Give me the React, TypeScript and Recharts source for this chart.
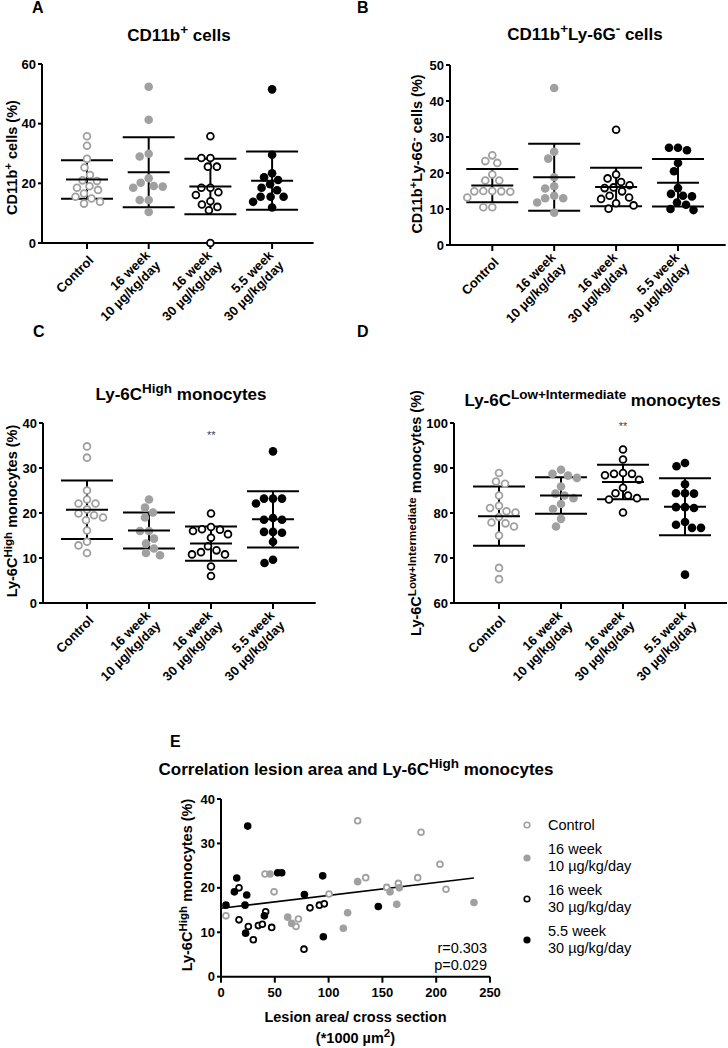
import React from "react";
import { ScatterChart, Scatter, XAxis, YAxis, ErrorBar, ReferenceLine, Legend } from "recharts";

const FONT = '"Liberation Sans", Arial, Helvetica, sans-serif';
const GRAY = "#a0a0a0";
const BLACK = "#000";

// x categories
const groupLabels = [
  ["Control"],
  ["16 week", "10 µg/kg/day"],
  ["16 week", "30 µg/kg/day"],
  ["5.5 week", "30 µg/kg/day"],
];
const groupColor = [GRAY, GRAY, BLACK, BLACK];
const groupOpen = [true, false, true, false];

// A: CD11b+ cells (%)
const aControl = [35.8, 32.6, 28.2, 25.3, 22.8, 21.0, 20.8, 19.0, 18.5, 17.8, 16.6, 15.5, 14.9, 13.8, 13.2];
const a16w10 = [52.4, 41.3, 29.9, 29.0, 21.7, 20.2, 19.1, 18.9, 18.5, 14.4, 14.4, 10.4];
const a16w30 = [35.8, 28.5, 28.5, 25.6, 25.6, 18.5, 18.5, 17.0, 16.1, 14.0, 12.9, 12.1, 11.0, 0];
const a55w30 = [51.5, 29.6, 23.4, 22.0, 21.1, 19.7, 18.5, 17.7, 15.5, 15.5, 15.5, 13.8, 11.9];
const aMeans = [21.3, 23.7, 18.9, 20.9];
const aSds = [6.45, 11.75, 9.3, 9.75];

// B: CD11b+Ly-6G- cells (%)
const bControl = [24.9, 23.3, 22.8, 19.6, 17.9, 17.9, 15.0, 15.0, 14.9, 14.9, 14.8, 13.2, 10.5, 10.5];
const b16w10 = [43.6, 25.9, 24.0, 18.8, 16.3, 15.7, 13.7, 13.0, 13.0, 11.8, 9.0];
const b16w30 = [32.0, 19.6, 18.5, 17.5, 16.6, 16.0, 15.8, 14.9, 13.7, 13.2, 12.8, 11.6, 11.0, 10.1];
const b55w30 = [27.0, 27.0, 26.3, 22.8, 20.5, 15.8, 14.2, 13.7, 13.5, 11.8, 11.2, 10.0, 9.7];
const bMeans = [16.5, 18.8, 16.1, 17.3];
const bSds = [4.6, 9.3, 5.35, 6.6];

// C: Ly-6C High monocytes (%)
const cControl = [34.8, 32.3, 25.0, 23.0, 22.1, 22.1, 20.8, 19.9, 19.5, 19.0, 18.4, 16.1, 13.6, 12.8, 11.1];
const c16w10 = [23.0, 21.2, 20.1, 19.0, 16.0, 16.0, 14.3, 13.2, 12.1, 11.1, 10.6];
const c16w30 = [19.9, 16.9, 16.4, 16.3, 16.0, 15.3, 14.5, 12.6, 11.7, 11.3, 10.8, 10.8, 8.1, 6.0];
const c55w30 = [33.7, 23.2, 23.2, 23.2, 22.1, 18.9, 18.5, 18.5, 15.8, 15.8, 15.6, 13.6, 9.6, 8.9];
const cMeans = [20.7, 16.1, 13.2, 18.6];
const cSds = [6.5, 4.0, 3.8, 6.25];

// D: Ly-6C Low+Intermediate monocytes (%)
const dControl = [88.9, 87.0, 86.5, 83.9, 81.6, 81.1, 80.4, 80.1, 79.1, 77.9, 77.7, 77.0, 75.0, 67.8, 65.3];
const d16w10 = [89.6, 88.7, 88.3, 87.8, 85.9, 84.3, 83.9, 83.3, 82.0, 80.9, 78.7, 77.0];
const d16w30 = [94.1, 91.9, 88.9, 88.7, 88.7, 88.4, 87.4, 85.6, 84.4, 83.9, 83.3, 83.0, 80.1];
const d55w30 = [91.1, 90.4, 86.4, 84.4, 84.4, 84.3, 81.3, 81.3, 81.1, 78.0, 77.4, 76.7, 76.7, 66.3];
const dMeans = [79.3, 83.9, 86.9, 81.4];
const dSds = [6.6, 4.05, 3.85, 6.35];

// E: lesion area (*1000 µm2) vs Ly-6C High monocytes (%)
const eControl = [[4.6, 13.7], [40.9, 23.1], [49.3, 19.1], [71.9, 13.0], [69.7, 11.3], [100.4, 18.6], [127.0, 35.1], [134.5, 22.3], [154.0, 20.1], [164.8, 21.0], [182.8, 22.3], [185.9, 32.5], [203.5, 25.3], [209.1, 19.7]];
const e16w10 = [[45.5, 23.1], [62.0, 13.4], [65.7, 12.0], [113.7, 10.9], [117.7, 14.4], [127.0, 21.4], [157.1, 19.1], [163.3, 16.3], [165.7, 20.0], [235.1, 16.7]];
const e16w30 = [[16.7, 20.0], [16.7, 12.8], [25.4, 11.3], [30.0, 8.3], [34.7, 11.5], [38.4, 11.8], [41.5, 14.6], [47.1, 11.1], [77.1, 6.2], [82.7, 15.5], [91.4, 16.1], [96.0, 16.4]];
const e55w30 = [[4.6, 16.1], [12.4, 19.1], [14.6, 22.2], [22.3, 16.1], [23.9, 18.4], [22.9, 9.8], [24.8, 33.9], [40.3, 13.7], [52.7, 23.4], [56.4, 23.4], [77.5, 18.5], [94.5, 22.7], [95.1, 9.0], [146.2, 15.8]];
const eFitIntercept = 15.4;
const eFitSlope = 0.029;
const eFitRange = [0, 235];
const eXTicks = [0, 50, 100, 150, 200, 250];
const eYTicks = [0, 10, 20, 30, 40];

const panels = [
  { id: "A", values: [aControl, a16w10, a16w30, a55w30], means: aMeans, sds: aSds, yDomain: [0, 60], yTicks: [0, 20, 40, 60], plot: { x0: 41.7, x1: 313.3, y0: 64.3, y1: 243.3 }, catX: 86.7, step: 61.7 },
  { id: "B", values: [bControl, b16w10, b16w30, b55w30], means: bMeans, sds: bSds, yDomain: [0, 50], yTicks: [0, 10, 20, 30, 40, 50], plot: { x0: 450, x1: 725.7, y0: 65, y1: 245 }, catX: 492.3, step: 61.9 },
  { id: "C", values: [cControl, c16w10, c16w30, c55w30], means: cMeans, sds: cSds, yDomain: [0, 40], yTicks: [0, 10, 20, 30, 40], plot: { x0: 43.3, x1: 316, y0: 423.3, y1: 603.3 }, catX: 87.3, step: 62 },
  { id: "D", values: [dControl, d16w10, d16w30, d55w30], means: dMeans, sds: dSds, yDomain: [60, 100], yTicks: [60, 70, 80, 90, 100], plot: { x0: 454, x1: 727, y0: 423.3, y1: 603.3 }, catX: 499, step: 62 },
];

const R = 4.3;

// simple beeswarm: spread points sideways so that they don't overlap
function swarm(vals: number[], pxY: number, minDist: number): number[] {
  const order = vals.map((_, i) => i).sort((a, b) => vals[b] - vals[a]);
  const placed: { x: number; y: number }[] = [];
  const out = new Array(vals.length).fill(0);
  for (const i of order) {
    const y = vals[i] * pxY;
    for (let k = 0; k < 400; k++) {
      const s = Math.ceil(k / 2) * 0.5;
      const x = k % 2 === 1 ? -s : s;
      if (placed.every((p) => Math.hypot(p.x - x, p.y - y) >= minDist)) {
        placed.push({ x, y });
        out[i] = x;
        break;
      }
    }
  }
  return out;
}

const dotShape = (color: string, open: boolean, r: number) => (p: any) =>
  open ? (
    <circle cx={p.cx} cy={p.cy} r={r - 0.9} fill="#fff" stroke={color} strokeWidth={1.8} />
  ) : (
    <circle cx={p.cx} cy={p.cy} r={r} fill={color} />
  );

const meanShape = (p: any) => (
  <line x1={p.cx - 21} x2={p.cx + 21} y1={p.cy} y2={p.cy} stroke="#000" strokeWidth={2} />
);

const axisLine = { stroke: "#000", strokeWidth: 2 };
const tickFont = { fontFamily: FONT, fontSize: 13, fontWeight: "bold", fill: "#000" };

function GroupTick(props: any) {
  const { x, y, payload } = props;
  const lines = groupLabels[Math.round(payload.value)] || [];
  const lh = 14.5;
  const off = (-(lines.length - 1) / 2) * lh;
  return (
    <g transform={`translate(${x + 4},${y + 7}) rotate(-45)`}>
      <text textAnchor="end" fontFamily={FONT} fontSize={13} fontWeight="bold" fill="#000">
        {lines.map((l, i) => (
          <tspan key={i} x={0} y={off + i * lh} dy="0.35em">
            {l}
          </tspan>
        ))}
      </text>
    </g>
  );
}

function GroupPanel({ values, means, sds, yDomain, yTicks, plot, catX, step }: any) {
  const yAxisW = 40;
  const top = 10;
  const xAxisH = 100;
  const left = plot.x0 - yAxisW;
  const width = plot.x1 - left + 2;
  const height = top + (plot.y1 - plot.y0) + xAxisH;
  const xDomain = [-(catX - plot.x0) / step, (plot.x1 - catX) / step];
  const pxY = (plot.y1 - plot.y0) / (yDomain[1] - yDomain[0]);
  const series = values.map((vals: number[], g: number) => {
    const offs = swarm(vals, pxY, 2 * R + 0.4);
    return vals.map((v, i) => ({ x: g + offs[i] / step, y: v }));
  });
  const meanData = means.map((m: number, g: number) => ({ x: g, y: m, sd: sds[g] }));
  return (
    <div style={{ position: "absolute", left, top: plot.y0 - top }}>
      <ScatterChart width={width} height={height} margin={{ top, right: 2, bottom: 0, left: 0 }}>
        <XAxis
          type="number"
          dataKey="x"
          domain={xDomain}
          ticks={[0, 1, 2, 3]}
          interval={0}
          tick={<GroupTick />}
          tickSize={6}
          tickMargin={2}
          height={xAxisH}
          axisLine={axisLine}
          tickLine={axisLine}
        />
        <YAxis
          type="number"
          dataKey="y"
          domain={yDomain}
          ticks={yTicks}
          interval={0}
          width={yAxisW}
          tickSize={4}
          tickMargin={2}
          axisLine={axisLine}
          tickLine={axisLine}
          tick={tickFont}
        />
        {series.map((d: any[], g: number) => (
          <Scatter key={g} data={d} isAnimationActive={false} shape={dotShape(groupColor[g], groupOpen[g], R)} />
        ))}
        <Scatter data={meanData} isAnimationActive={false} shape={meanShape}>
          <ErrorBar dataKey="sd" direction="y" width={26} stroke="#000" strokeWidth={2} />
        </Scatter>
      </ScatterChart>
    </div>
  );
}

const eSeries = [
  { name: ["Control"], data: eControl, color: GRAY, open: true },
  { name: ["16 week", "10 µg/kg/day"], data: e16w10, color: GRAY, open: false },
  { name: ["16 week", "30 µg/kg/day"], data: e16w30, color: BLACK, open: true },
  { name: ["5.5 week", "30 µg/kg/day"], data: e55w30, color: BLACK, open: false },
];

function LegendBox() {
  const markerY = [20, 53.3, 94.3, 135];
  const lineY = [[20], [44.3, 61.7], [85, 102.3], [126.7, 143.3]];
  return (
    <div style={{ position: "relative", width: 228, height: 155, fontFamily: FONT, fontSize: 14.5, color: "#000" }}>
      {eSeries.map((s, i) => (
        <React.Fragment key={i}>
          <svg width={12} height={12} style={{ position: "absolute", left: 21.3, top: markerY[i] - 6 }}>
            {s.open ? (
              <circle cx={6} cy={6} r={2.8} fill="#fff" stroke={s.color} strokeWidth={1.6} />
            ) : (
              <circle cx={6} cy={6} r={3.6} fill={s.color} />
            )}
          </svg>
          {s.name.map((t, j) => (
            <div key={j} style={{ position: "absolute", left: 48, top: lineY[i][j] - 8.5, height: 17, lineHeight: "17px", whiteSpace: "nowrap" }}>
              {t}
            </div>
          ))}
        </React.Fragment>
      ))}
    </div>
  );
}

function CorrelationPanel() {
  const plot = { x0: 221, x1: 490, y0: 799, y1: 976.7 };
  const yAxisW = 40;
  const top = 10;
  const xAxisH = 30;
  const left = plot.x0 - yAxisW;
  const width = 728 - left;
  const right = width - yAxisW - (plot.x1 - plot.x0);
  const height = top + (plot.y1 - plot.y0) + xAxisH;
  return (
    <div style={{ position: "absolute", left, top: plot.y0 - top }}>
      <ScatterChart width={width} height={height} margin={{ top, right, bottom: 0, left: 0 }}>
        <XAxis
          type="number"
          dataKey="x"
          domain={[0, 250]}
          ticks={eXTicks}
          interval={0}
          tickSize={6}
          tickMargin={5}
          height={xAxisH}
          axisLine={axisLine}
          tickLine={axisLine}
          tick={tickFont}
        />
        <YAxis
          type="number"
          dataKey="y"
          domain={[0, 40]}
          ticks={eYTicks}
          interval={0}
          width={yAxisW}
          tickSize={4}
          tickMargin={2}
          axisLine={axisLine}
          tickLine={axisLine}
          tick={tickFont}
        />
        <ReferenceLine
          segment={[
            { x: eFitRange[0], y: eFitIntercept + eFitSlope * eFitRange[0] },
            { x: eFitRange[1], y: eFitIntercept + eFitSlope * eFitRange[1] },
          ]}
          stroke="#000"
          strokeWidth={1.6}
          ifOverflow="visible"
        />
        {eSeries.map((s, i) => (
          <Scatter
            key={i}
            name={s.name.join(" ")}
            data={s.data.map(([x, y]) => ({ x, y }))}
            isAnimationActive={false}
            shape={dotShape(s.color, s.open, 3.8)}
          />
        ))}
        <Legend
          layout="vertical"
          align="center"
          verticalAlign="middle"
          wrapperStyle={{ left: 500 - left, top: 805 - (plot.y0 - top), width: 228 }}
          content={() => <LegendBox />}
        />
      </ScatterChart>
    </div>
  );
}

function Overlay() {
  const b = { fontFamily: FONT, fontWeight: "bold" as const, fill: "#000" };
  return (
    <svg width={728} height={1048} style={{ position: "absolute", left: 0, top: 0, pointerEvents: "none" }}>
      {/* panel letters */}
      <text x={32} y={13} fontSize={16} {...b}>A</text>
      <text x={357} y={13} fontSize={16} {...b}>B</text>
      <text x={33} y={337} fontSize={16} {...b}>C</text>
      <text x={357} y={337} fontSize={16} {...b}>D</text>
      <text x={170} y={747} fontSize={16} {...b}>E</text>

      {/* titles */}
      <text x={179} y={41} textAnchor="middle" fontSize={17} {...b}>
        CD11b<tspan fontSize={13.5} dy={-7}>+</tspan><tspan dy={7}>{" cells"}</tspan>
      </text>
      <text x={585} y={40} textAnchor="middle" fontSize={17} {...b}>
        CD11b<tspan fontSize={13.5} dy={-7}>+</tspan><tspan dy={7}>Ly-6G</tspan><tspan fontSize={13.5} dy={-7}>-</tspan>
        <tspan dy={7}>{" cells"}</tspan>
      </text>
      <text x={181} y={400} textAnchor="middle" fontSize={17} {...b}>
        Ly-6C<tspan fontSize={13.5} dy={-7}>High</tspan><tspan dy={7}>{" monocytes"}</tspan>
      </text>
      <text x={592.5} y={406} textAnchor="middle" fontSize={17} {...b}>
        Ly-6C<tspan fontSize={13.5} dy={-7}>Low+Intermediate</tspan><tspan dy={7}>{" monocytes"}</tspan>
      </text>
      <text x={356} y={775} textAnchor="middle" fontSize={17} {...b}>
        Correlation lesion area and Ly-6C<tspan fontSize={13.5} dy={-7}>High</tspan><tspan dy={7}>{" monocytes"}</tspan>
      </text>

      {/* y axis labels */}
      <text transform="translate(17,157.5) rotate(-90)" textAnchor="middle" fontSize={14.5} {...b}>
        CD11b<tspan fontSize={11.6} dy={-5}>+</tspan><tspan dy={5}>{" cells (%)"}</tspan>
      </text>
      <text transform="translate(422,154) rotate(-90)" textAnchor="middle" fontSize={14.5} {...b}>
        CD11b<tspan fontSize={11.6} dy={-5}>+</tspan><tspan dy={5}>Ly-6G</tspan><tspan fontSize={11.6} dy={-5}>-</tspan>
        <tspan dy={5}>{" cells (%)"}</tspan>
      </text>
      <text transform="translate(17,511) rotate(-90)" textAnchor="middle" fontSize={14.5} {...b}>
        Ly-6C<tspan fontSize={11.6} dy={-5}>High</tspan><tspan dy={5}>{" monocytes (%)"}</tspan>
      </text>
      <text transform="translate(420.5,513) rotate(-90)" textAnchor="middle" fontSize={14.5} {...b}>
        Ly-6C<tspan fontSize={11.6} dy={-5}>Low+Intermediate</tspan><tspan dy={5}>{" monocytes (%)"}</tspan>
      </text>
      <text transform="translate(191.5,885) rotate(-90)" textAnchor="middle" fontSize={14.5} {...b}>
        Ly-6C<tspan fontSize={11.6} dy={-5}>High</tspan><tspan dy={5}>{" monocytes (%)"}</tspan>
      </text>

      {/* significance marks */}
      <text x={211.3} y={439} textAnchor="middle" fontSize={11} fontFamily={FONT} fill="#444">**</text>
      <text x={623} y={430} textAnchor="middle" fontSize={11} fontFamily={FONT} fill="#444">**</text>

      {/* E x label */}
      <text x={355.5} y={1021.5} textAnchor="middle" fontSize={14.5} {...b}>Lesion area/ cross section</text>
      <text x={355.5} y={1043} textAnchor="middle" fontSize={14.5} {...b}>
        (*1000 µm<tspan fontSize={11.6} dy={-6}>2</tspan><tspan dy={6}>)</tspan>
      </text>

      {/* correlation stats */}
      <text x={487} y={953} textAnchor="end" fontSize={14.5} fontFamily={FONT} fill="#000">r=0.303</text>
      <text x={487} y={970} textAnchor="end" fontSize={14.5} fontFamily={FONT} fill="#000">p=0.029</text>
    </svg>
  );
}

export default function App() {
  return (
    <div style={{ position: "absolute", left: 0, top: 0, width: 728, height: 1048, background: "#fff", overflow: "hidden" }}>
      {panels.map((p) => (
        <GroupPanel key={p.id} {...p} />
      ))}
      <CorrelationPanel />
      <Overlay />
    </div>
  );
}
